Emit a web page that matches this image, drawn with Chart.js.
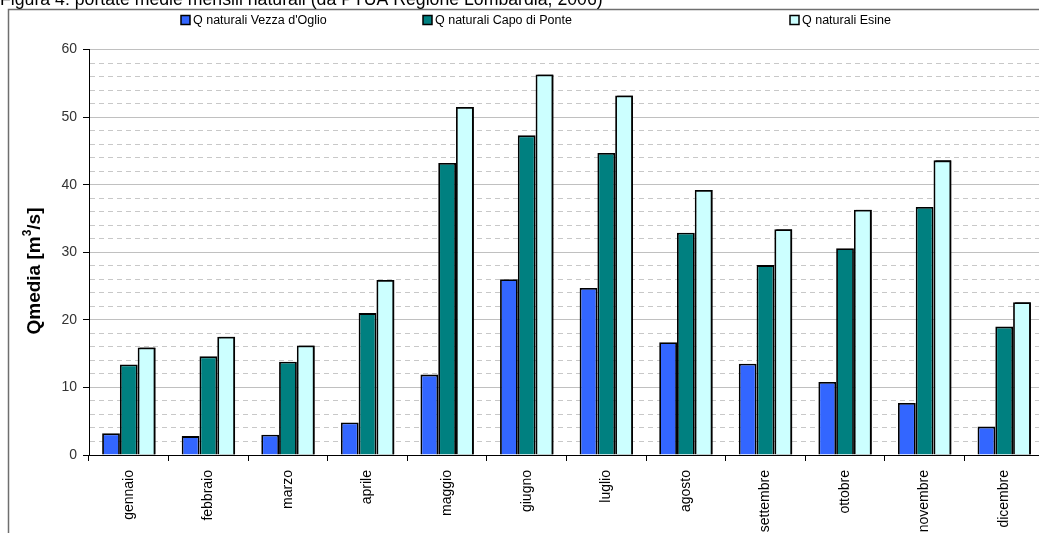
<!DOCTYPE html>
<html>
<head>
<meta charset="utf-8">
<script src="https://cdn.jsdelivr.net/npm/chart.js@4"></script>
<style>
  html, body { margin: 0; padding: 0; background: #fff; overflow: hidden; }
  #wrap { position: relative; width: 1060px; height: 540px; }
</style>
</head>
<body>
<div id="wrap"><canvas id="chart" width="1060" height="540"></canvas></div>
<script>
// --- data ---
const mesi = ['gennaio', 'febbraio', 'marzo', 'aprile', 'maggio', 'giugno',
              'luglio', 'agosto', 'settembre', 'ottobre', 'novembre', 'dicembre'];
const vezzaDOglio = [3.2, 2.8, 3.0, 4.8, 11.9, 26.0, 24.7, 16.7, 13.5, 10.8, 7.7, 4.2];
const capoDiPonte = [13.4, 14.6, 13.8, 21.0, 43.2, 47.3, 44.7, 32.9, 28.1, 30.6, 36.7, 19.0];
const esine = [15.9, 17.5, 16.2, 25.9, 51.5, 56.3, 53.2, 39.2, 33.4, 36.3, 43.6, 22.6];
const yTicksMajor = [0, 10, 20, 30, 40, 50, 60];

const FONT = '"Liberation Sans", Arial, sans-serif';
const titolo = 'Figura 4: portate medie mensili naturali (da PTUA Regione Lombardia, 2006)';

// frame, cut-off caption, legend and y axis title
const decorPlugin = {
    id: 'decor',
    beforeDraw(chart) {
        const ctx = chart.ctx;
        ctx.save();
        ctx.fillStyle = '#fff';
        ctx.fillRect(0, 0, chart.width, chart.height);
        ctx.strokeStyle = '#6f6f6f';
        ctx.lineWidth = 1.5;
        ctx.strokeRect(8.5, 9.5, chart.width, chart.height);
        ctx.fillStyle = '#000';
        ctx.font = '17.7px ' + FONT;
        ctx.textBaseline = 'alphabetic';
        ctx.fillText(titolo, 0, 5);
        ctx.restore();
    },
    afterDraw(chart) {
        const ctx = chart.ctx;
        ctx.save();
        // legend
        const legendX = [181, 423, 790];
        ctx.font = '12.5px ' + FONT;
        ctx.textBaseline = 'middle';
        chart.data.datasets.forEach((ds, i) => {
            const x = legendX[i];
            ctx.fillStyle = ds.backgroundColor;
            ctx.fillRect(x, 15.5, 9, 9);
            ctx.strokeStyle = '#000';
            ctx.lineWidth = 1.5;
            ctx.strokeRect(x, 15.5, 9, 9);
            ctx.fillStyle = '#000';
            ctx.fillText(ds.label, x + 12, 20.5);
        });
        // y axis title with superscript
        ctx.translate(35, 271);
        ctx.rotate(-Math.PI / 2);
        ctx.fillStyle = '#000';
        ctx.textBaseline = 'middle';
        const p1 = 'Qmedia [m', p2 = '3', p3 = '/s]';
        ctx.font = 'bold 19px ' + FONT;
        const w1 = ctx.measureText(p1).width, w3 = ctx.measureText(p3).width;
        ctx.font = 'bold 12px ' + FONT;
        const w2 = ctx.measureText(p2).width;
        let x = -(w1 + w2 + w3) / 2;
        ctx.font = 'bold 19px ' + FONT;
        ctx.fillText(p1, x, 0);
        x += w1;
        ctx.font = 'bold 12px ' + FONT;
        ctx.fillText(p2, x, -7);
        x += w2;
        ctx.font = 'bold 19px ' + FONT;
        ctx.fillText(p3, x, 0);
        ctx.restore();
    }
};

// dark drop shadow on the right of the last series
const shadowPlugin = {
    id: 'barShadow',
    beforeDatasetDraw(chart, args) {
        if (args.index !== 2) return;
        const ctx = chart.ctx;
        ctx.save();
        ctx.shadowColor = '#000';
        ctx.shadowOffsetX = 2;
        ctx.shadowOffsetY = 0;
        ctx.shadowBlur = 0;
    },
    afterDatasetDraw(chart, args) {
        if (args.index !== 2) return;
        chart.ctx.restore();
    }
};

document.addEventListener('DOMContentLoaded', function() {
    const ctx = document.getElementById('chart');

    new Chart(ctx, {
        type: 'bar',
        data: {
            labels: mesi,
            datasets: [
                { label: "Q naturali Vezza d'Oglio", data: vezzaDOglio, backgroundColor: '#3366ff' },
                { label: 'Q naturali Capo di Ponte', data: capoDiPonte, backgroundColor: '#008080' },
                { label: 'Q naturali Esine', data: esine, backgroundColor: '#ccffff' }
            ]
        },
        options: {
            responsive: false,
            animation: false,
            events: [],
            layout: { padding: { left: 0, top: 49.5, right: 16, bottom: 0 } },
            datasets: {
                bar: {
                    borderColor: '#000',
                    borderWidth: 1.8,
                    categoryPercentage: 0.67,
                    barPercentage: 1
                }
            },
            plugins: {
                legend: { display: false },
                tooltip: { enabled: false },
                title: { display: false }
            },
            scales: {
                x: {
                    afterFit(scale) { scale.height = 85; },
                    grid: {
                        color: 'transparent',
                        drawOnChartArea: false,
                        drawTicks: true,
                        tickLength: 6,
                        tickColor: '#000',
                        offset: true
                    },
                    border: { color: '#000', width: 1 },
                    ticks: {
                        minRotation: 90,
                        maxRotation: 90,
                        autoSkip: false,
                        padding: 9,
                        color: '#000',
                        font: { family: FONT, size: 14 }
                    }
                },
                y: {
                    min: 0,
                    max: 60,
                    afterFit(scale) { scale.width = 89; },
                    grid: {
                        color: c => (c.tick && yTicksMajor.includes(c.tick.value)) ? '#c0c0c0' : '#c8c8c8',
                        lineWidth: 1,
                        drawTicks: true,
                        tickLength: 6,
                        tickColor: c => (c.tick && yTicksMajor.includes(c.tick.value)) ? '#000' : 'transparent',
                        tickBorderDash: []
                    },
                    border: {
                        color: '#000',
                        width: 1,
                        dash: c => (c.tick && !yTicksMajor.includes(c.tick.value)) ? [5, 4] : []
                    },
                    ticks: {
                        stepSize: 2,
                        autoSkip: false,
                        padding: 6,
                        color: '#333',
                        font: { family: FONT, size: 14 },
                        callback: v => yTicksMajor.includes(v) ? String(v) : ''
                    }
                }
            }
        },
        plugins: [decorPlugin, shadowPlugin]
    });
});
</script>
</body>
</html>
